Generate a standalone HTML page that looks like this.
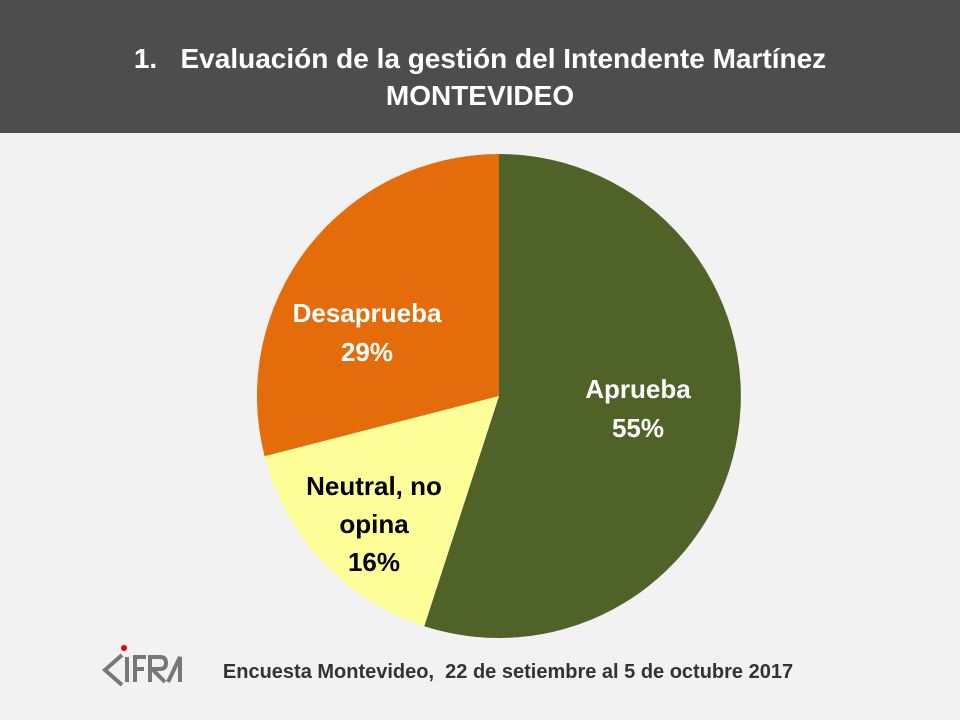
<!DOCTYPE html>
<html><head><meta charset="utf-8"><style>
body{margin:0;width:960px;height:720px;background:#f2f2f2;font-family:"Liberation Sans","DejaVu Sans",sans-serif;overflow:hidden;position:relative}
.hdr{position:absolute;left:0;top:0;width:960px;height:133px;background:#4d4d4d;color:#fff;text-align:center;font-weight:bold;font-size:28px;line-height:37px}
</style></head><body>
<div class="hdr"><div style="padding-top:40px">1.&nbsp;&nbsp; Evaluación de la gestión del Intendente Martínez</div><div>MONTEVIDEO</div></div>
<svg width="960" height="720" style="position:absolute;left:0;top:0">
<path d="M499,396 L499,154 A242,242 0 1 1 424.2,626.2 Z" fill="#4f6228"/>
<path d="M499,396 L424.2,626.2 A242,242 0 0 1 264.6,456.2 Z" fill="#ffff99"/>
<path d="M499,396 L264.6,456.2 A242,242 0 0 1 499,154 Z" fill="#e46c0a"/>
<g font-family="Liberation Sans, sans-serif" font-weight="bold" font-size="26" text-anchor="middle">
<text x="638" y="398" fill="#fff">Aprueba</text>
<text x="638" y="437" fill="#fff">55%</text>
<text x="367" y="322" fill="#fff">Desaprueba</text>
<text x="367" y="361" fill="#fff">29%</text>
<text x="374" y="495" fill="#000">Neutral, no</text>
<text x="374" y="533" fill="#000">opina</text>
<text x="374" y="571" fill="#000">16%</text>
</g>
<g stroke="#777" stroke-width="4" fill="none">
<polyline points="122,655 105,670 122,685"/>
<line x1="127" y1="657" x2="127" y2="682"/>
<polyline points="146,657 135,657 135,682"/><line x1="135" y1="669" x2="144" y2="669"/>
<path d="M150,682 L150,657 L160,657 Q166,657 166,663 Q166,669 160,669 L152,669 L165,682"/>
<polyline points="168,682 180,657 180,682"/>
</g>
<circle cx="124" cy="648" r="3" fill="#e00"/>
<text x="508" y="678" text-anchor="middle" font-family="Liberation Sans, sans-serif" font-weight="bold" font-size="20" fill="#333">Encuesta Montevideo,&#160; 22 de setiembre al 5 de octubre 2017</text>
</svg>
</body></html>
